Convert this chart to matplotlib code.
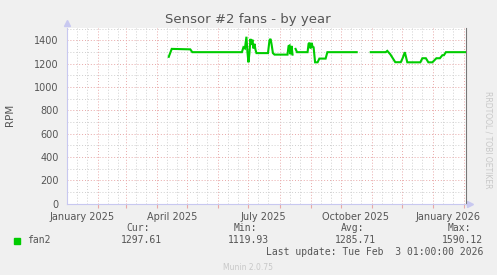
import numpy as np
import pandas as pd
import matplotlib
matplotlib.use('Agg')
import matplotlib.pyplot as plt
import matplotlib.dates as mdates

# fan2 readings (yearly view), NaN = no data
dates = ['2025-04-12 12:00', '2025-04-15 12:00', '2025-05-04', '2025-05-06', '2025-06-24 12:00',
         '2025-06-26', '2025-06-27 12:00', '2025-06-29', '2025-06-30', '2025-07-01', '2025-07-02',
         '2025-07-03', '2025-07-04', '2025-07-05', '2025-07-06', '2025-07-07', '2025-07-08',
         '2025-07-09', '2025-07-20 12:00', '2025-07-22', '2025-07-23', '2025-07-24',
         '2025-07-25 10:00', '2025-07-27', '2025-08-09', '2025-08-10', '2025-08-11', '2025-08-12',
         '2025-08-13', '2025-08-14', '2025-08-15 12:00', '2025-08-17', '2025-08-18 12:00',
         '2025-08-29', '2025-08-30', '2025-08-31', '2025-09-01', '2025-09-02', '2025-09-03',
         '2025-09-04', '2025-09-05 12:00', '2025-09-08', '2025-09-09 18:00', '2025-09-16',
         '2025-09-17 18:00', '2025-10-17', '2025-10-24', '2025-10-31', '2025-11-15',
         '2025-11-16 12:00', '2025-11-19 12:00', '2025-11-24 12:00', '2025-11-30', '2025-12-02',
         '2025-12-04', '2025-12-06 12:00', '2025-12-19 12:00', '2025-12-21 12:00', '2025-12-25',
         '2025-12-27 12:00', '2025-12-31 12:00', '2026-01-04 12:00', '2026-01-08',
         '2026-01-10 12:00', '2026-01-12', '2026-01-14', '2026-02-03']
fan2 = [1258, 1326, 1322, 1298, 1298,
        1340, 1330, 1430, 1300, 1211, 1290,
        1412, 1360, 1405, 1330, 1370, 1320,
        1290, 1290, 1400, 1412, 1370,
        1290, 1277, 1277, 1350, 1355, 1280,
        1352, 1277, np.nan, 1326, 1298,
        1298, 1370, 1378, 1330, 1378, 1345,
        1340, 1211, 1211, 1243, 1243,
        1298, 1298, np.nan, 1298, 1298,
        1309, 1280, 1212, 1212, 1250,
        1298, 1211, 1211, 1246, 1246,
        1211, 1211, 1246, 1246,
        1272, 1272, 1298, 1298]

month_labels = ['January 2025', 'April 2025', 'July 2025', 'October 2025', 'January 2026']
label_dates = ['2025-01-16', '2025-04-16', '2025-07-16', '2025-10-16', '2026-01-16']

legend_heads = ['Cur:', 'Min:', 'Avg:', 'Max:']
legend_vals = ['1297.61', '1119.93', '1285.71', '1590.12']

W, H = 497, 275
bg = '#F0F0F0'
txt = '#555555'

fig = plt.figure(figsize=(W / 100, H / 100), dpi=100, facecolor=bg)
ax = fig.add_axes([67 / W, 1 - 203.7 / H, (466 - 67) / W, (203.7 - 28) / H])
ax.set_facecolor('white')

x = pd.to_datetime(dates, format='mixed')
ax.plot(x, fan2, color='#00CC00', lw=1.5, solid_joinstyle='miter', zorder=3)

x0 = pd.Timestamp('2025-01-01')
x1 = pd.Timestamp('2026-02-03 01:00')
ax.set_xlim(x0, x1)
ax.set_ylim(0, 1505)

# grid like rrdtool: red dotted major, gray dotted minor
months = pd.date_range('2025-02-01', '2026-02-01', freq='MS')
minors = [d + pd.Timedelta(days=k) for d in pd.date_range('2025-01-01', '2026-02-01', freq='MS') for k in (10, 20)]
for d in minors:
    if d < x1:
        ax.axvline(d, color='#CFCFCF', lw=0.7, ls=(0, (1, 2)), zorder=1)
for d in months:
    ax.axvline(d, color='#E8A8A8', lw=0.7, ls=(0, (1, 2)), zorder=1)
for v in range(100, 1600, 200):
    ax.axhline(v, color='#CFCFCF', lw=0.7, ls=(0, (1, 2)), zorder=1)
for v in range(200, 1600, 200):
    ax.axhline(v, color='#E8A8A8', lw=0.7, ls=(0, (1, 2)), zorder=1)

ax.set_xticks(list(months))
ax.set_xticklabels([])
ax.tick_params(axis='x', length=3, color='#E8A8A8', width=0.8)
for lab, d in zip(month_labels, label_dates):
    ax.text(pd.Timestamp(d), -0.045, lab, transform=ax.get_xaxis_transform(),
            ha='center', va='top', fontsize=7, color=txt)

ax.set_yticks(range(0, 1500, 200))
ax.set_yticklabels([str(v) for v in range(0, 1500, 200)], fontsize=7, color=txt)
ax.tick_params(axis='y', length=0, pad=6)

for s in ['top']:
    ax.spines[s].set_visible(False)
ax.spines['right'].set_color('#777777')
ax.spines['right'].set_linewidth(0.8)
ax.spines['left'].set_color('#C8C8F0')
ax.spines['bottom'].set_color('#C8C8F0')
ax.spines['left'].set_linewidth(0.8)
ax.spines['bottom'].set_linewidth(0.8)
# axis arrows
ax.plot([0], [1.03], marker='^', ms=4, color='#C8C8F0', transform=ax.transAxes, clip_on=False)
ax.plot([1.01], [0], marker='>', ms=4, color='#C8C8F0', transform=ax.transAxes, clip_on=False)

def px(xp, yp):
    return xp / W, 1 - yp / H

fig.text(*px(248, 19), 'Sensor #2 fans - by year', ha='center', va='center', fontsize=9.5, color=txt)
fig.text(*px(10, 115), 'RPM', ha='center', va='center', rotation=90, fontsize=7.5, color=txt)
fig.text(*px(488, 140), 'RRDTOOL / TOBI OETIKER', ha='center', va='center', rotation=270,
         fontsize=5.5, color='#C8C8C8')

mono = 'DejaVu Sans Mono'
fig.patches.append(plt.Rectangle(px(14, 244), 6 / W, 6 / H, transform=fig.transFigure,
                                 color='#00CC00'))
fig.text(*px(27, 240), 'fan2', ha='left', va='center', fontsize=7, family=mono, color=txt)
for i, (h, v) in enumerate(zip(legend_heads, legend_vals)):
    xr = 162 + i * 107
    fig.text(*px(xr - 12, 228), h, ha='right', va='center', fontsize=7, family=mono, color=txt)
    fig.text(*px(xr, 240), v, ha='right', va='center', fontsize=7, family=mono, color=txt)
fig.text(*px(483, 252), 'Last update: Tue Feb  3 01:00:00 2026', ha='right', va='center',
         fontsize=7, family=mono, color=txt)
fig.text(*px(248, 267), 'Munin 2.0.75', ha='center', va='center', fontsize=5.5, color='#C8C8C8')

fig.savefig('out.png', dpi=100, facecolor=bg)
